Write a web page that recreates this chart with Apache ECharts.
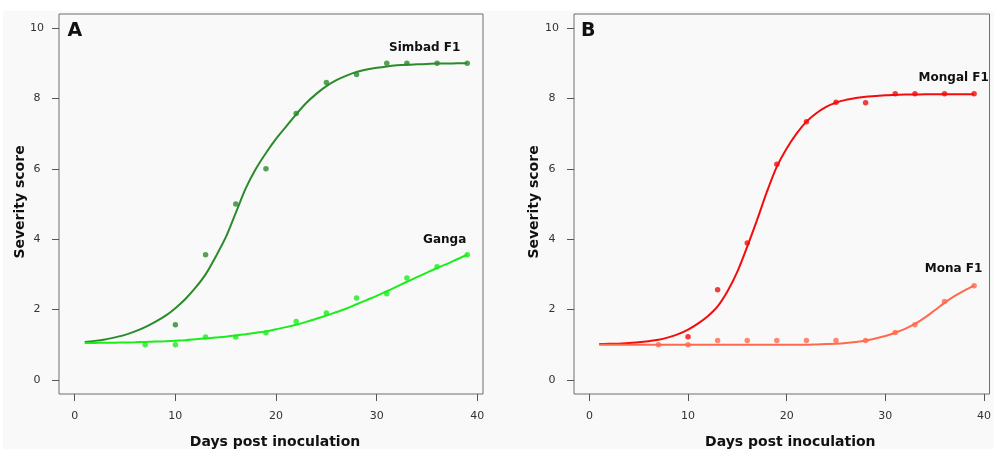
<!DOCTYPE html>
<html><head><meta charset="utf-8">
<script src="https://cdn.jsdelivr.net/npm/echarts@6/dist/echarts.min.js"></script>
<style>html,body{margin:0;padding:0;background:#fff}#c{width:994px;height:449px}</style>
</head><body><div id="c"></div>
<script>
// ---- tick labels ----
const tickX = [0, 10, 20, 30, 40];
const tickY = [0, 2, 4, 6, 8, 10];

// ---- Panel A: observed points ----
const ptDaysSimbad = [10, 13, 16, 19, 22, 25, 28, 31, 33, 36, 39];
const ptSimbad     = [1.57, 3.56, 5.0, 6.0, 7.57, 8.45, 8.68, 9.0, 9.0, 9.0, 9.0];
const ptDaysGanga  = [7, 10, 13, 16, 19, 22, 25, 28, 31, 33, 36, 39];
const ptGanga      = [1.0, 1.0, 1.22, 1.22, 1.34, 1.66, 1.9, 2.33, 2.45, 2.9, 3.22, 3.56];

// ---- fitted curves at each day 1..39 ----
const fitDays = [1, 2, 3, 4, 5, 6, 7, 8, 9, 10, 11, 12, 13, 14, 15, 16, 17, 18, 19, 20,
                 21, 22, 23, 24, 25, 26, 27, 28, 29, 30, 31, 32, 33, 34, 35, 36, 37, 38, 39];
const fitSimbad = [1.08, 1.11, 1.15, 1.21, 1.28, 1.38, 1.50, 1.65, 1.82, 2.04, 2.30, 2.62, 3.00, 3.50, 4.05, 4.75, 5.45, 6.00, 6.45, 6.85,
                   7.20, 7.55, 7.87, 8.13, 8.35, 8.52, 8.65, 8.75, 8.82, 8.87, 8.91, 8.94, 8.96, 8.97, 8.98, 8.99, 8.99, 9.0, 9.0];
const fitGanga  = [1.05, 1.052, 1.055, 1.06, 1.065, 1.07, 1.08, 1.09, 1.10, 1.115, 1.13, 1.155, 1.18, 1.205, 1.23, 1.265, 1.30, 1.34, 1.38, 1.44,
                   1.50, 1.57, 1.65, 1.74, 1.83, 1.93, 2.03, 2.15, 2.27, 2.39, 2.52, 2.65, 2.79, 2.92, 3.05, 3.18, 3.30, 3.43, 3.56];

// ---- Panel B: observed points ----
const ptDaysMongal = [10, 13, 16, 19, 22, 25, 28, 31, 33, 36, 39];
const ptMongal     = [1.23, 2.56, 3.89, 6.13, 7.34, 7.89, 7.88, 8.13, 8.13, 8.13, 8.13];
const ptDaysMona   = [7, 10, 13, 16, 19, 22, 25, 28, 31, 33, 36, 39];
const ptMona       = [1.0, 1.0, 1.12, 1.12, 1.12, 1.12, 1.12, 1.12, 1.35, 1.57, 2.23, 2.68];

const fitMongal = [1.02, 1.025, 1.03, 1.05, 1.07, 1.10, 1.14, 1.21, 1.30, 1.43, 1.60, 1.81, 2.09, 2.52, 3.08, 3.79, 4.55, 5.35, 6.06, 6.58,
                   7.00, 7.34, 7.58, 7.76, 7.88, 7.96, 8.01, 8.05, 8.07, 8.09, 8.10, 8.11, 8.11, 8.12, 8.12, 8.12, 8.12, 8.12, 8.12];
const fitMona   = [1.0, 1.0, 1.0, 1.0, 1.0, 1.0, 1.0, 1.0, 1.0, 1.0, 1.0, 1.0, 1.0, 1.0, 1.0, 1.0, 1.0, 1.0, 1.0, 1.0,
                   1.0, 1.0, 1.01, 1.02, 1.03, 1.05, 1.08, 1.12, 1.18, 1.25, 1.34, 1.45, 1.59, 1.77, 1.98, 2.19, 2.38, 2.54, 2.68];

const zip = (xs, ys) => xs.map((x, i) => [x, ys[i]]);

const C_SIMBAD = '#2b8b2b', C_GANGA = '#19ee19', C_MONGAL = '#f20c0c', C_MONA = '#ff6a4d';
const FONT = 'DejaVu Sans';

function xAx(g) {
  return {
    type: 'value', gridIndex: g, min: -1.56, max: 40.56, position: 'bottom',
    axisLine: { show: false, onZero: false }, splitLine: { show: false },
    axisTick: { show: true, length: 7, customValues: tickX, lineStyle: { color: '#555', width: 1 } },
    axisLabel: { show: true, customValues: tickX, margin: 17, fontSize: 11, color: '#333', fontFamily: FONT }
  };
}
function yAx(g) {
  return {
    type: 'value', gridIndex: g, min: -0.4, max: 10.4, position: 'left',
    axisLine: { show: false, onZero: false }, splitLine: { show: false },
    axisTick: { show: true, length: 7, customValues: tickY, lineStyle: { color: '#555', width: 1 } },
    axisLabel: { show: true, customValues: tickY, margin: 22, align: 'center', fontSize: 11, color: '#333', fontFamily: FONT }
  };
}
function curve(g, xs, ys, color) {
  return { type: 'line', xAxisIndex: g, yAxisIndex: g, data: zip(xs, ys), smooth: 0.3,
    showSymbol: false, silent: true, lineStyle: { color: color, width: 2 }, z: 3 };
}
function pts(g, xs, ys, color) {
  return { type: 'scatter', xAxisIndex: g, yAxisIndex: g, data: zip(xs, ys), symbol: 'circle', symbolSize: 5.5,
    itemStyle: { color: color }, silent: true, z: 4 };
}
function txt(x, y, s, size, align, rot) {
  return { type: 'text', x: x, y: y, rotation: rot || 0, z: 10,
    style: { text: s, fill: '#111', fontSize: size, fontWeight: 'bold', fontFamily: FONT,
      align: align || 'center', verticalAlign: 'middle' } };
}

const chart = echarts.init(document.getElementById('c'), null, { renderer: 'canvas' });
chart.setOption({
  animation: false,
  backgroundColor: '#f9f9f9',
  grid: [
    { left: 59, top: 14, width: 424, height: 380, show: true, borderColor: '#6e6e6e', borderWidth: 1, backgroundColor: 'transparent' },
    { left: 574, top: 14, width: 424, height: 380, show: true, borderColor: '#6e6e6e', borderWidth: 1, backgroundColor: 'transparent' }
  ],
  xAxis: [xAx(0), xAx(1)],
  yAxis: [yAx(0), yAx(1)],
  series: [
    curve(0, fitDays, fitSimbad, C_SIMBAD),
    curve(0, fitDays, fitGanga, C_GANGA),
    pts(0, ptDaysSimbad, ptSimbad, C_SIMBAD),
    pts(0, ptDaysGanga, ptGanga, C_GANGA),
    curve(1, fitDays, fitMongal, C_MONGAL),
    curve(1, fitDays, fitMona, C_MONA),
    pts(1, ptDaysMongal, ptMongal, C_MONGAL),
    pts(1, ptDaysMona, ptMona, C_MONA)
  ],
  graphic: [
    { type: 'rect', shape: { x: 0, y: 0, width: 994, height: 11 }, style: { fill: '#ffffff' }, z: -1, silent: true },
    { type: 'rect', shape: { x: 0, y: 0, width: 3, height: 449 }, style: { fill: '#ffffff' }, z: -1, silent: true },
    txt(67.5, 31, 'A', 19, 'left'),
    txt(581, 31, 'B', 19, 'left'),
    txt(424.7, 48.3, 'Simbad F1', 12),
    txt(444.7, 239.7, 'Ganga', 12),
    txt(953.7, 77.7, 'Mongal F1', 12),
    txt(953.5, 268.7, 'Mona F1', 12),
    txt(275, 442, 'Days post inoculation', 14),
    txt(790.3, 442, 'Days post inoculation', 14),
    txt(20, 202, 'Severity score', 14, 'center', Math.PI / 2),
    txt(534.5, 202, 'Severity score', 14, 'center', Math.PI / 2)
  ]
});
</script></body></html>
